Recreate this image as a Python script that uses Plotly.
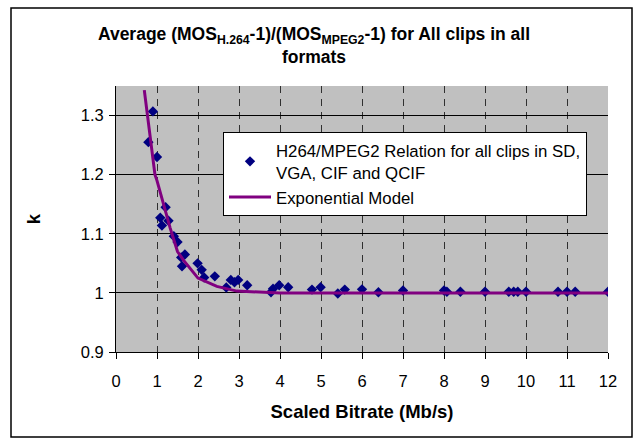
import plotly.graph_objects as go

# Data
clip_bitrate = [0.79, 0.90, 1.00, 1.08, 1.12, 1.21, 1.28, 1.41, 1.50, 1.59, 1.61, 1.68,
                1.99, 2.09, 2.15, 2.41, 2.69, 2.80, 2.89, 2.98, 3.20, 3.78, 3.83, 3.98,
                4.20, 4.78, 4.99, 5.41, 5.58, 6.00, 6.40, 7.00, 8.00, 8.07, 8.40, 9.00,
                9.58, 9.70, 9.80, 10.00, 10.78, 11.00, 11.20, 12.00]
clip_k = [1.255, 1.307, 1.230, 1.127, 1.114, 1.145, 1.122, 1.096, 1.086, 1.060, 1.045, 1.065,
          1.050, 1.039, 1.026, 1.028, 1.009, 1.022, 1.018, 1.022, 1.013, 1.001, 1.007, 1.013,
          1.0095, 1.0056, 1.0096, 0.999, 1.0056, 1.006, 1.001, 1.004, 1.004, 1.002, 1.002, 1.002,
          1.002, 1.002, 1.002, 1.002, 1.002, 1.002, 1.002, 1.002]

model_bitrate = [0.69, 0.95, 1.00, 1.16, 1.32, 1.50, 1.65, 2.00, 2.46, 2.95, 3.50, 4.00, 12.00]
model_k = [1.343, 1.200, 1.190, 1.148, 1.110, 1.070, 1.055, 1.025, 1.011, 1.003, 1.001, 1.000, 1.000]

x_ticks = list(range(0, 13))
y_tickvals = [0.9, 1.0, 1.1, 1.2, 1.3]
y_ticktext = ["0.9", "1", "1.1", "1.2", "1.3"]

FONT = "Liberation Sans, Arial, sans-serif"

fig = go.Figure()
fig.add_trace(go.Scatter(
    x=clip_bitrate, y=clip_k, mode="markers",
    name="H264/MPEG2 Relation for all clips in SD,<br>VGA, CIF and QCIF",
    marker=dict(symbol="diamond", size=8, color="#000080"),
))
fig.add_trace(go.Scatter(
    x=model_bitrate, y=model_k, mode="lines",
    name="Exponential Model",
    line=dict(color="#800080", width=3),
))

L, R, T, B = 116, 608, 86, 352
W, H = 638, 443
pw, ph = R - L, B - T

def px(x):
    return (x - L) / pw

def py(y):
    return (B - y) / ph

fig.update_layout(
    width=W, height=H,
    margin=dict(l=L, r=W - R, t=T, b=H - B),
    paper_bgcolor="white",
    plot_bgcolor="#C0C0C0",
    font=dict(family=FONT, size=16, color="black"),
    title=dict(
        text="<b>Average (MOS<sub>H.264</sub>-1)/(MOS<sub>MPEG2</sub>-1) for All clips in all<br>formats</b>",
        x=314 / W, xanchor="center", xref="container",
        y=1 - 40 / H, yanchor="top", yref="container",
        font=dict(family=FONT, size=17.5, color="black"),
    ),
    showlegend=True,
    legend=dict(
        x=px(223), y=py(132), xanchor="left", yanchor="top",
        bgcolor="white", bordercolor="black", borderwidth=1,
        font=dict(family=FONT, size=16.8, color="black"),
        tracegroupgap=0, itemwidth=42,
    ),
    xaxis=dict(
        range=[0, 12], tickvals=x_ticks,
        showgrid=True, gridcolor="#303030", gridwidth=1, griddash="7px,6px",
        showline=True, linecolor="black", linewidth=1,
        ticks="outside", ticklen=6, tickcolor="black",
        ticklabelstandoff=8,
        zeroline=False,
        title=dict(text="<b>Scaled Bitrate (Mb/s)</b>", font=dict(family=FONT, size=18.5), standoff=16),
        tickfont=dict(family=FONT, size=16.5),
    ),
    yaxis=dict(
        range=[0.9, 1.35], tickvals=y_tickvals, ticktext=y_ticktext,
        showgrid=True, gridcolor="black", gridwidth=1,
        showline=True, linecolor="black", linewidth=1,
        ticks="outside", ticklen=6, tickcolor="black",
        ticklabelstandoff=2,
        zeroline=False,
        title=dict(text="<b>k</b>", font=dict(family=FONT, size=18.5), standoff=35),
        tickfont=dict(family=FONT, size=16.5),
    ),
    shapes=[dict(
        type="rect", xref="paper", yref="paper",
        x0=px(11), x1=px(632), y0=py(437), y1=py(8),
        line=dict(color="black", width=1.5), fillcolor="rgba(0,0,0,0)", layer="below",
    )],
)

fig.write_html("out.html")
